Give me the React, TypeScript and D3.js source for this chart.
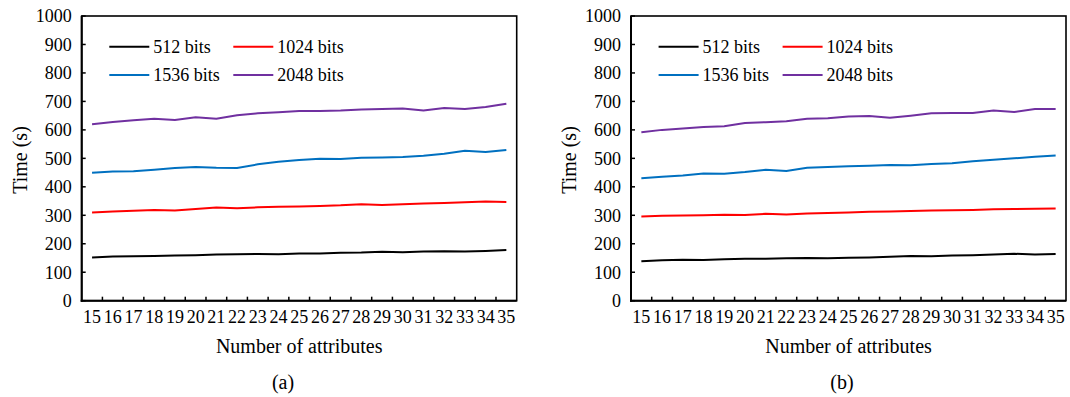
import React, { useEffect, useRef } from "react";
import * as d3 from "d3";

// x axis categories: number of attributes
const attributes = [15, 16, 17, 18, 19, 20, 21, 22, 23, 24, 25, 26, 27, 28, 29, 30, 31, 32, 33, 34, 35];

// y axis ticks (s)
const yTicks = [0, 100, 200, 300, 400, 500, 600, 700, 800, 900, 1000];

const seriesNames = ["512 bits", "1024 bits", "1536 bits", "2048 bits"];
const seriesColors = ["#000000", "#FF0000", "#0070C0", "#7030A0"];

// panel (a)
const a512 = [152, 155, 156, 157, 159, 160, 162, 163, 164, 163, 166, 166, 168, 169, 172, 170, 173, 174, 173, 175, 178];
const a1024 = [310, 313, 316, 319, 317, 322, 327, 325, 328, 330, 331, 333, 335, 339, 336, 339, 341, 343, 346, 348, 347];
const a1536 = [449, 454, 455, 460, 466, 470, 467, 466, 479, 488, 494, 499, 498, 502, 503, 505, 509, 516, 527, 522, 529];
const a2048 = [620, 628, 634, 639, 635, 644, 639, 651, 658, 662, 666, 666, 668, 672, 673, 675, 668, 677, 673, 680, 692];

// panel (b)
const b512 = [139, 142, 144, 143, 146, 147, 147, 149, 150, 149, 151, 152, 154, 157, 156, 159, 160, 162, 165, 162, 164];
const b1024 = [296, 298, 299, 300, 302, 301, 305, 303, 306, 308, 310, 312, 313, 315, 317, 318, 319, 321, 322, 323, 324];
const b1536 = [430, 435, 440, 447, 446, 452, 460, 456, 467, 470, 472, 474, 477, 476, 480, 483, 490, 495, 500, 506, 510];
const b2048 = [592, 600, 605, 610, 613, 624, 627, 630, 639, 641, 647, 649, 643, 650, 658, 659, 659, 668, 663, 673, 673];

const panels = [
    { caption: "(a)", left: 81.7, captionX: 283, series: [a512, a1024, a1536, a2048] },
    { caption: "(b)", left: 631, captionX: 842, series: [b512, b1024, b1536, b2048] },
];

const FONT = "Liberation Serif";

export default function App() {
    const svgRef = useRef<SVGSVGElement>(null);

    useEffect(() => {
        const width = 1070;
        const height = 397;
        const plotW = 435;
        const top = 16;
        const bottom = 300.7;

        const root = d3.select(svgRef.current);
        root.selectAll("*").remove();
        root.attr("width", width).attr("height", height);

        panels.forEach(p => {
            const g = root.append("g").style("font-family", FONT).attr("fill", "#000");

            const x = d3.scaleBand<string>()
                .domain(attributes.map(String))
                .range([p.left, p.left + plotW]);
            const y = d3.scaleLinear().domain([0, 1000]).range([bottom, top]);
            const bw = x.bandwidth();

            // frame
            g.append("rect")
                .attr("x", p.left).attr("y", top)
                .attr("width", plotW).attr("height", bottom - top)
                .attr("fill", "none").attr("stroke", "#000").attr("stroke-width", 1.6);
            // axes lines (a bit heavier)
            g.append("line")
                .attr("x1", p.left).attr("x2", p.left).attr("y1", top).attr("y2", bottom + 1)
                .attr("stroke", "#000").attr("stroke-width", 2);
            g.append("line")
                .attr("x1", p.left - 1).attr("x2", p.left + plotW).attr("y1", bottom).attr("y2", bottom)
                .attr("stroke", "#000").attr("stroke-width", 2);

            // y ticks, pointing inward
            yTicks.forEach(t => {
                g.append("line")
                    .attr("x1", p.left).attr("x2", p.left + 4)
                    .attr("y1", y(t)).attr("y2", y(t))
                    .attr("stroke", "#000").attr("stroke-width", 1.5);
                g.append("text")
                    .attr("x", p.left - 10).attr("y", y(t)).attr("dy", "0.35em")
                    .attr("text-anchor", "end").attr("font-size", 18)
                    .text(t);
            });

            // x ticks at category boundaries, pointing inward
            attributes.slice(1).forEach(c => {
                const xx = x(String(c))!;
                g.append("line")
                    .attr("x1", xx).attr("x2", xx)
                    .attr("y1", bottom).attr("y2", bottom - 4)
                    .attr("stroke", "#000").attr("stroke-width", 1.5);
            });
            attributes.forEach(c => {
                g.append("text")
                    .attr("x", x(String(c))! + bw / 2).attr("y", 322.7)
                    .attr("text-anchor", "middle").attr("font-size", 18)
                    .text(c);
            });

            // series lines
            p.series.forEach((vals, si) => {
                const line = d3.line<number>()
                    .x((_, i) => x(String(attributes[i]))! + bw / 2)
                    .y(v => y(v));
                g.append("path")
                    .attr("d", line(vals))
                    .attr("fill", "none")
                    .attr("stroke", seriesColors[si])
                    .attr("stroke-width", 2);
            });

            // legend
            seriesNames.forEach((name, i) => {
                const lx = p.left + 27.6 + (i % 2) * 124;
                const ly = 46.7 + Math.floor(i / 2) * 28.3;
                g.append("line")
                    .attr("x1", lx).attr("x2", lx + 40)
                    .attr("y1", ly).attr("y2", ly)
                    .attr("stroke", seriesColors[i]).attr("stroke-width", 2);
                g.append("text")
                    .attr("x", lx + 44).attr("y", ly).attr("dy", "0.35em")
                    .attr("font-size", 18)
                    .text(name);
            });

            // axis titles
            g.append("text")
                .attr("x", p.left + plotW / 2).attr("y", 352.7)
                .attr("text-anchor", "middle").attr("font-size", 20)
                .text("Number of attributes");
            g.append("text")
                .attr("transform", `translate(${p.left - 54.7}, 160) rotate(-90)`)
                .attr("text-anchor", "middle").attr("font-size", 20)
                .text("Time (s)");

            // caption
            g.append("text")
                .attr("x", p.captionX).attr("y", 389)
                .attr("text-anchor", "middle").attr("font-size", 20)
                .text(p.caption);
        });
    }, []);

    return (
        <svg
            ref={svgRef}
            style={{ position: "absolute", left: 0, top: 0, background: "#fff" }}
        ></svg>
    );
}
